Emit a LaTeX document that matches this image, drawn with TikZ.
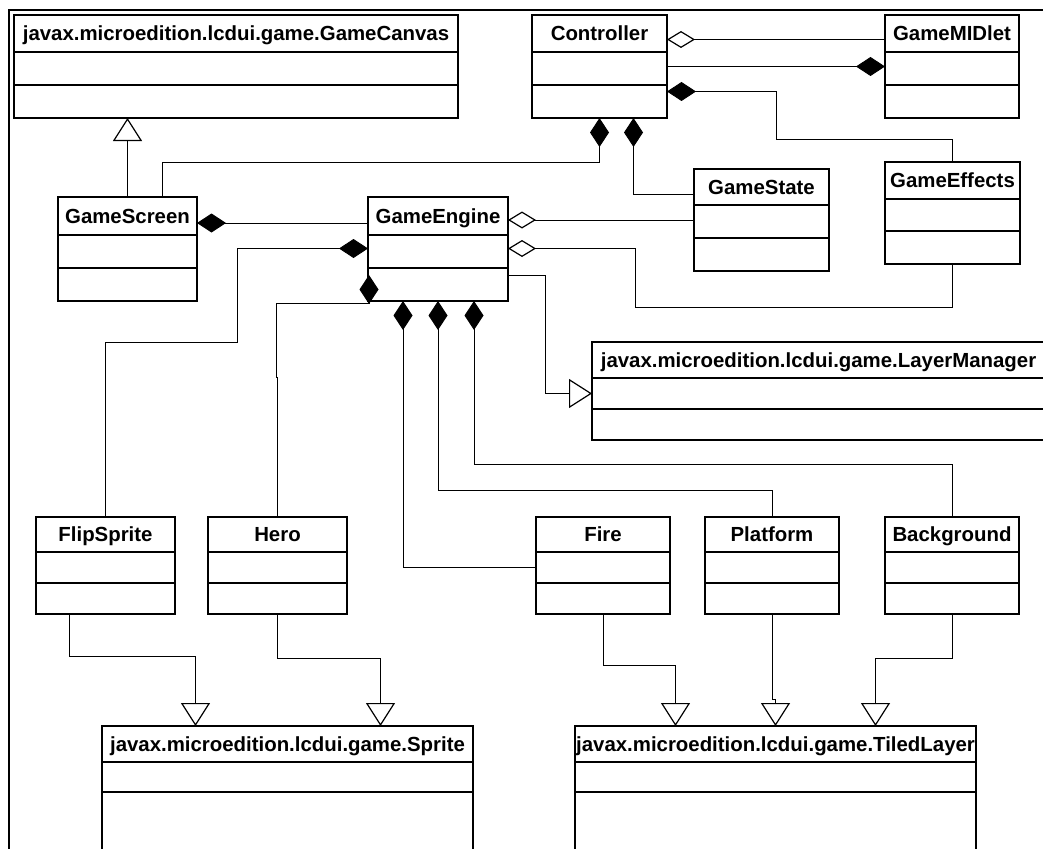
\documentclass[tikz,border=0pt]{standalone}
\usepackage{fontspec}
\setmainfont{Liberation Sans}
\usetikzlibrary{positioning,arrows.meta}
\newcommand{\umlclass}[7]{%
	\node[classhead, minimum width=#3pt, minimum height=#4pt, anchor=north west] (#1) at (#2) {#7};
	\node[classpart, minimum width=#3pt, minimum height=#5pt, below=0pt of #1] (#1-attr) {};
	\node[classpart, minimum width=#3pt, minimum height=#6pt, below=0pt of #1-attr] (#1-ops) {};
}

\begin{document}
\begin{tikzpicture}[x=1pt, y=-1pt, every node/.style={font=\bfseries\fontsize{20.4}{24}\selectfont},
	classhead/.style={draw, line width=1.6pt, inner sep=0pt, outer sep=0pt, text height=14.6pt, text depth=0pt},
	classpart/.style={draw, line width=1.6pt, inner sep=0pt, outer sep=0pt},
	conn/.style={line width=0.9pt},
	comp/.style={conn, {Diamond[length=29pt, width=19pt]}-},
	aggr/.style={conn, {Diamond[fill=white, length=28pt, width=17pt, line width=1.2pt]}-},
	gen/.style={conn, -{Triangle[fill=white, length=23pt, width=29pt, line width=1.2pt]}}]
		\useasboundingbox (0,0) rectangle (1043,848);

		% Frame
		\draw[line width=1.6pt] (9,850) -- (9,10) -- (1045,10);

		% Classes
		\umlclass{canvas}{14,15}{444}{37}{33}{33}{javax.microedition.lcdui.game.GameCanvas}
		\umlclass{ctrl}{532,15}{135}{37}{33}{33}{Controller}
		\umlclass{midlet}{885,15}{134}{37}{33}{33}{GameMIDlet}
		\umlclass{state}{694,169}{135}{36}{33}{33}{GameState}
		\umlclass{effects}{885,162}{135}{37}{32}{33}{GameEffects}
		\umlclass{screen}{58,197}{139}{38}{33}{33}{GameScreen}
		\umlclass{engine}{368,197}{140}{38}{33}{33}{GameEngine}
		\umlclass{layermgr}{592,342}{453}{36}{31}{31}{javax.microedition.lcdui.game.LayerManager}
		\umlclass{flip}{36,517}{139}{35}{31}{31}{FlipSprite}
		\umlclass{hero}{208,517}{139}{35}{31}{31}{Hero}
		\umlclass{fire}{536,517}{134}{35}{31}{31}{Fire}
		\umlclass{platform}{705,517}{134}{35}{31}{31}{Platform}
		\umlclass{backgr}{885,517}{134}{35}{31}{31}{Background}
		\umlclass{sprite}{102,726}{371}{36}{30}{70}{javax.microedition.lcdui.game.Sprite}
		\umlclass{tiled}{575,726}{401}{36}{30}{70}{javax.microedition.lcdui.game.TiledLayer}

		% Generalizations
		\draw[gen] (screen.north) -- (screen.north |- canvas-ops.south);
		\draw[gen] ([yshift=9pt]engine-ops.east) -- ++(37,0) |- (layermgr-attr.west);
		\draw[gen] ([xshift=-36pt]flip-ops.south) -- ++(0,42) -| ([xshift=-92pt]sprite.north);
		\draw[gen] (hero-ops.south) -- ++(0,44) -| ([xshift=93pt]sprite.north);
		\draw[gen] (fire-ops.south) -- ++(0,51) -| ([xshift=-100pt]tiled.north);
		\draw[gen] (platform-ops.south) -- ++(0,85) -| (tiled.north);
		\draw[gen] (backgr-ops.south) -- ++(0,44) -| ([xshift=100pt]tiled.north);

		% Controller
		\draw[comp] (ctrl-ops.south) -- ++(0,44) -| ([xshift=35pt]screen.north);
		\draw[comp] ([xshift=34pt]ctrl-ops.south) |- ([yshift=-7pt]state.west);
		\draw[aggr] ([yshift=-6pt]ctrl.east) -- ([yshift=-6pt]midlet.west);
		\draw[comp] ([yshift=2pt]midlet-attr.west) -- ([yshift=2pt]ctrl-attr.east);
		\draw[comp] ([yshift=10pt]ctrl-ops.east) -- ++(109,0) -- ++(0,48) -| (effects.north);

		% GameScreen and GameEngine
		\draw[comp] ([yshift=-7pt]screen.east) -- ([yshift=-7pt]engine.west);
		\draw[aggr] ([yshift=-4pt]engine.east) -- ([yshift=-4pt]engine.east -| state-attr.west);
		\draw[aggr] ([yshift=3pt]engine-attr.east) -- ++(127,0) -- ++(0,59) -| (effects-ops.south);
		\draw[comp] ([yshift=3pt]engine-attr.west) -- ++(-131,0) -- ++(0,94) -| (flip.north);
		\draw[comp] ([xshift=1pt,yshift=26pt]engine-ops.south west) -- ++(0,28) -- ++(-93,0) -- ++(0,74) -| (hero.north);
		\draw[comp] ([xshift=-35pt]engine-ops.south) |- (fire-attr.west);
		\draw[comp] (engine-ops.south) -- ++(0,189) -| (platform.north);
		\draw[comp] ([xshift=36pt]engine-ops.south) -- ++(0,163) -| (backgr.north);
	\end{tikzpicture}
\end{document}
